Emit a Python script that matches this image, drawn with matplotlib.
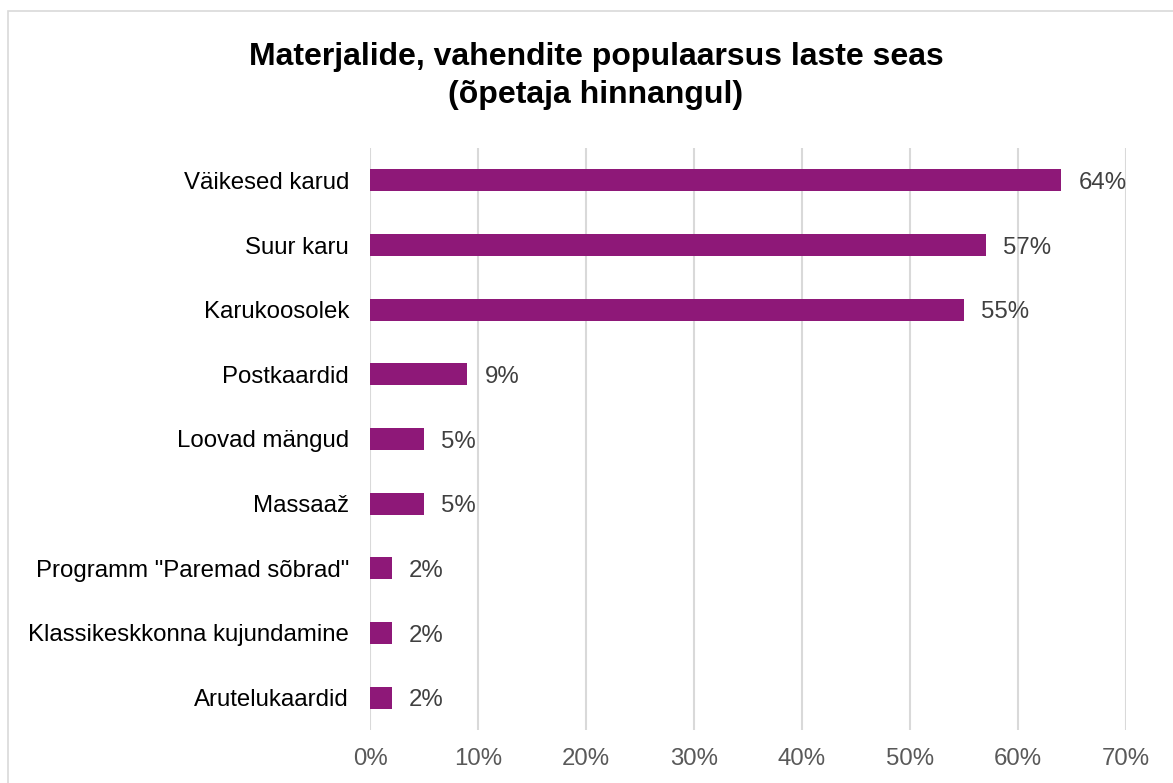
import matplotlib.pyplot as plt
from matplotlib.patches import Rectangle

categories = ["Väikesed karud", "Suur karu", "Karukoosolek", "Postkaardid",
              "Loovad mängud", "Massaaž", 'Programm "Paremad sõbrad"',
              "Klassikeskkonna kujundamine", "Arutelukaardid"]
values = [64, 57, 55, 9, 5, 5, 2, 2, 2]
ticks = [0, 10, 20, 30, 40, 50, 60, 70]

plt.rcParams['font.family'] = ['Liberation Sans', 'DejaVu Sans']

W, H = 1173, 783
fig = plt.figure(figsize=(W / 100, H / 100), dpi=100)
fig.patches.append(Rectangle((8 / W, -0.1), 1.2, 1 - 11 / H + 0.1, transform=fig.transFigure,
                             fill=False, edgecolor='#D9D9D9', lw=1.2))

ax = fig.add_axes([370 / W, 1 - 730 / H, (1126 - 370) / W, (730 - 148) / H])
y = list(range(len(categories)))
ax.barh(y, values, height=0.34, color='#8E1878', zorder=3)
for yi, v in zip(y, values):
    ax.text(v + 1.6, yi, f"{v}%", va='center_baseline', ha='left', fontsize=17.3, color='#404040')

ax.set_xlim(0, 70)
ax.set_ylim(len(categories) - 0.5, -0.5)
ax.set_xticks(ticks)
ax.set_xticklabels([f"{t}%" for t in ticks], fontsize=17.3, color='#595959')
ax.set_yticks(y)
ax.set_yticklabels(categories, fontsize=17.3, color='#000000')
ax.tick_params(length=0)
ax.tick_params(axis='x', pad=13)
ax.tick_params(axis='y', pad=15)
ax.grid(axis='x', color='#D9D9D9', lw=1.5, zorder=0)
for s in ax.spines.values():
    s.set_visible(False)

fig.text(596 / W, 1 - 76 / H, "Materjalide, vahendite populaarsus laste seas\n(õpetaja hinnangul)",
         ha='center', va='center', fontsize=23, fontweight='bold', linespacing=1.38)

fig.savefig("out.png", dpi=100)
